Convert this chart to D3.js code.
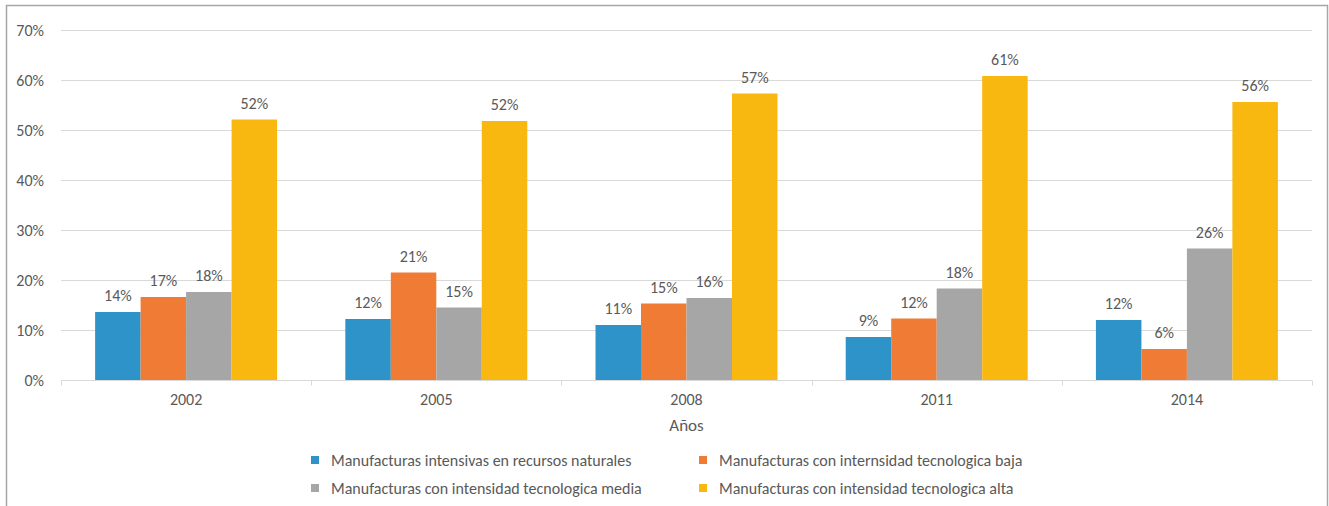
<!DOCTYPE html>
<html>
<head>
<meta charset="utf-8">
<script src="https://cdn.jsdelivr.net/npm/d3@7"></script>
<style>
  body { margin: 0; background: #fff; }
  svg { display: block; font-family: Carlito, "Open Sans", "Noto Sans", sans-serif; }
</style>
</head>
<body>
<div id="chart"></div>
<script>
// data
const years = ['2002', '2005', '2008', '2011', '2014'];
const seriesNames = [
    'Manufacturas intensivas en recursos naturales',
    'Manufacturas con internsidad tecnologica baja',
    'Manufacturas con intensidad tecnologica media',
    'Manufacturas con intensidad tecnologica alta'
];
const naturales = [13.6, 12.2, 11.0, 8.6, 12.0];
const baja = [16.6, 21.5, 15.3, 12.3, 6.2];
const media = [17.6, 14.5, 16.4, 18.3, 26.3];
const alta = [52.1, 51.8, 57.3, 60.8, 55.6];
const labelsNaturales = ['14%', '12%', '11%', '9%', '12%'];
const labelsBaja = ['17%', '21%', '15%', '12%', '6%'];
const labelsMedia = ['18%', '15%', '16%', '18%', '26%'];
const labelsAlta = ['52%', '52%', '57%', '61%', '56%'];
const yTicks = [0, 10, 20, 30, 40, 50, 60, 70];
const colors = ['#2e93c9', '#ef7b35', '#a6a6a6', '#f9b80f'];

const allValues = [naturales, baja, media, alta];
const allLabels = [labelsNaturales, labelsBaja, labelsMedia, labelsAlta];

const W = 1329, H = 506;
const margin = { left: 61, right: 17, top: 30, bottom: 126 };
const txt = '#595959';

const svg = d3.select('#chart').append('svg')
    .attr('width', W)
    .attr('height', H);

// outer frame
svg.append('rect')
    .attr('x', 6.5).attr('y', 5.5)
    .attr('width', W - 8).attr('height', H + 10)
    .attr('fill', 'none')
    .attr('stroke', '#a6a6a6')
    .attr('stroke-width', 1.5);

const x = d3.scaleBand()
    .domain(years)
    .range([margin.left, W - margin.right]);

const xInner = d3.scaleBand()
    .domain(d3.range(4))
    .range([0, x.bandwidth()])
    .paddingOuter(0.75);

const y = d3.scaleLinear()
    .domain([0, 70])
    .range([H - margin.bottom, margin.top]);

// gridlines
svg.append('g')
    .selectAll('line')
    .data(yTicks.slice(1))
    .enter().append('line')
    .attr('x1', margin.left)
    .attr('x2', W - margin.right)
    .attr('y1', d => Math.round(y(d)) + 0.5)
    .attr('y2', d => Math.round(y(d)) + 0.5)
    .attr('stroke', '#d9d9d9')
    .attr('stroke-width', 1);

// y labels
svg.append('g')
    .selectAll('text')
    .data(yTicks)
    .enter().append('text')
    .attr('x', 44)
    .attr('y', d => y(d))
    .attr('dy', '0.35em')
    .attr('text-anchor', 'end')
    .attr('fill', txt)
    .style('font-size', '16px')
    .text(d => d + '%');

// bars
allValues.forEach(function (vals, s) {
    svg.append('g')
        .selectAll('rect')
        .data(vals)
        .enter().append('rect')
        .attr('x', (d, i) => x(years[i]) + xInner(s))
        .attr('width', xInner.bandwidth())
        .attr('y', d => y(d))
        .attr('height', d => y(0) - y(d))
        .attr('fill', colors[s]);

    svg.append('g')
        .selectAll('text')
        .data(vals)
        .enter().append('text')
        .attr('x', (d, i) => x(years[i]) + xInner(s) + xInner.bandwidth() / 2)
        .attr('y', d => y(d) - 11)
        .attr('text-anchor', 'middle')
        .attr('fill', txt)
        .style('font-size', '16px')
        .text((d, i) => allLabels[s][i]);
});

// x axis line + ticks
const baseY = Math.round(y(0)) + 0.5;
svg.append('line')
    .attr('x1', margin.left).attr('x2', W - margin.right)
    .attr('y1', baseY).attr('y2', baseY)
    .attr('stroke', '#d9d9d9');
svg.append('g')
    .selectAll('line')
    .data(years.concat(['end']))
    .enter().append('line')
    .attr('x1', d => Math.round(d === 'end' ? W - margin.right : x(d)) + 0.5)
    .attr('x2', d => Math.round(d === 'end' ? W - margin.right : x(d)) + 0.5)
    .attr('y1', baseY).attr('y2', baseY + 5)
    .attr('stroke', '#d9d9d9');

svg.append('g')
    .selectAll('text')
    .data(years)
    .enter().append('text')
    .attr('x', d => x(d) + x.bandwidth() / 2)
    .attr('y', baseY + 24)
    .attr('text-anchor', 'middle')
    .attr('fill', txt)
    .style('font-size', '16px')
    .text(d => d);

svg.append('text')
    .attr('x', (margin.left + W - margin.right) / 2)
    .attr('y', 431)
    .attr('text-anchor', 'middle')
    .attr('fill', txt)
    .style('font-size', '17px')
    .text('Años');

// legend
const legendPos = [[311, 460], [699, 460], [311, 488], [699, 488]];
const legend = svg.append('g')
    .selectAll('g')
    .data(seriesNames)
    .enter().append('g')
    .attr('transform', (d, i) => 'translate(' + legendPos[i][0] + ',' + legendPos[i][1] + ')');
legend.append('rect')
    .attr('x', 0).attr('y', -4)
    .attr('width', 8).attr('height', 8)
    .attr('fill', (d, i) => colors[i]);
legend.append('text')
    .attr('x', 20)
    .attr('dy', '0.35em')
    .attr('fill', txt)
    .style('font-size', '16px')
    .text(d => d);
</script>
</body>
</html>
